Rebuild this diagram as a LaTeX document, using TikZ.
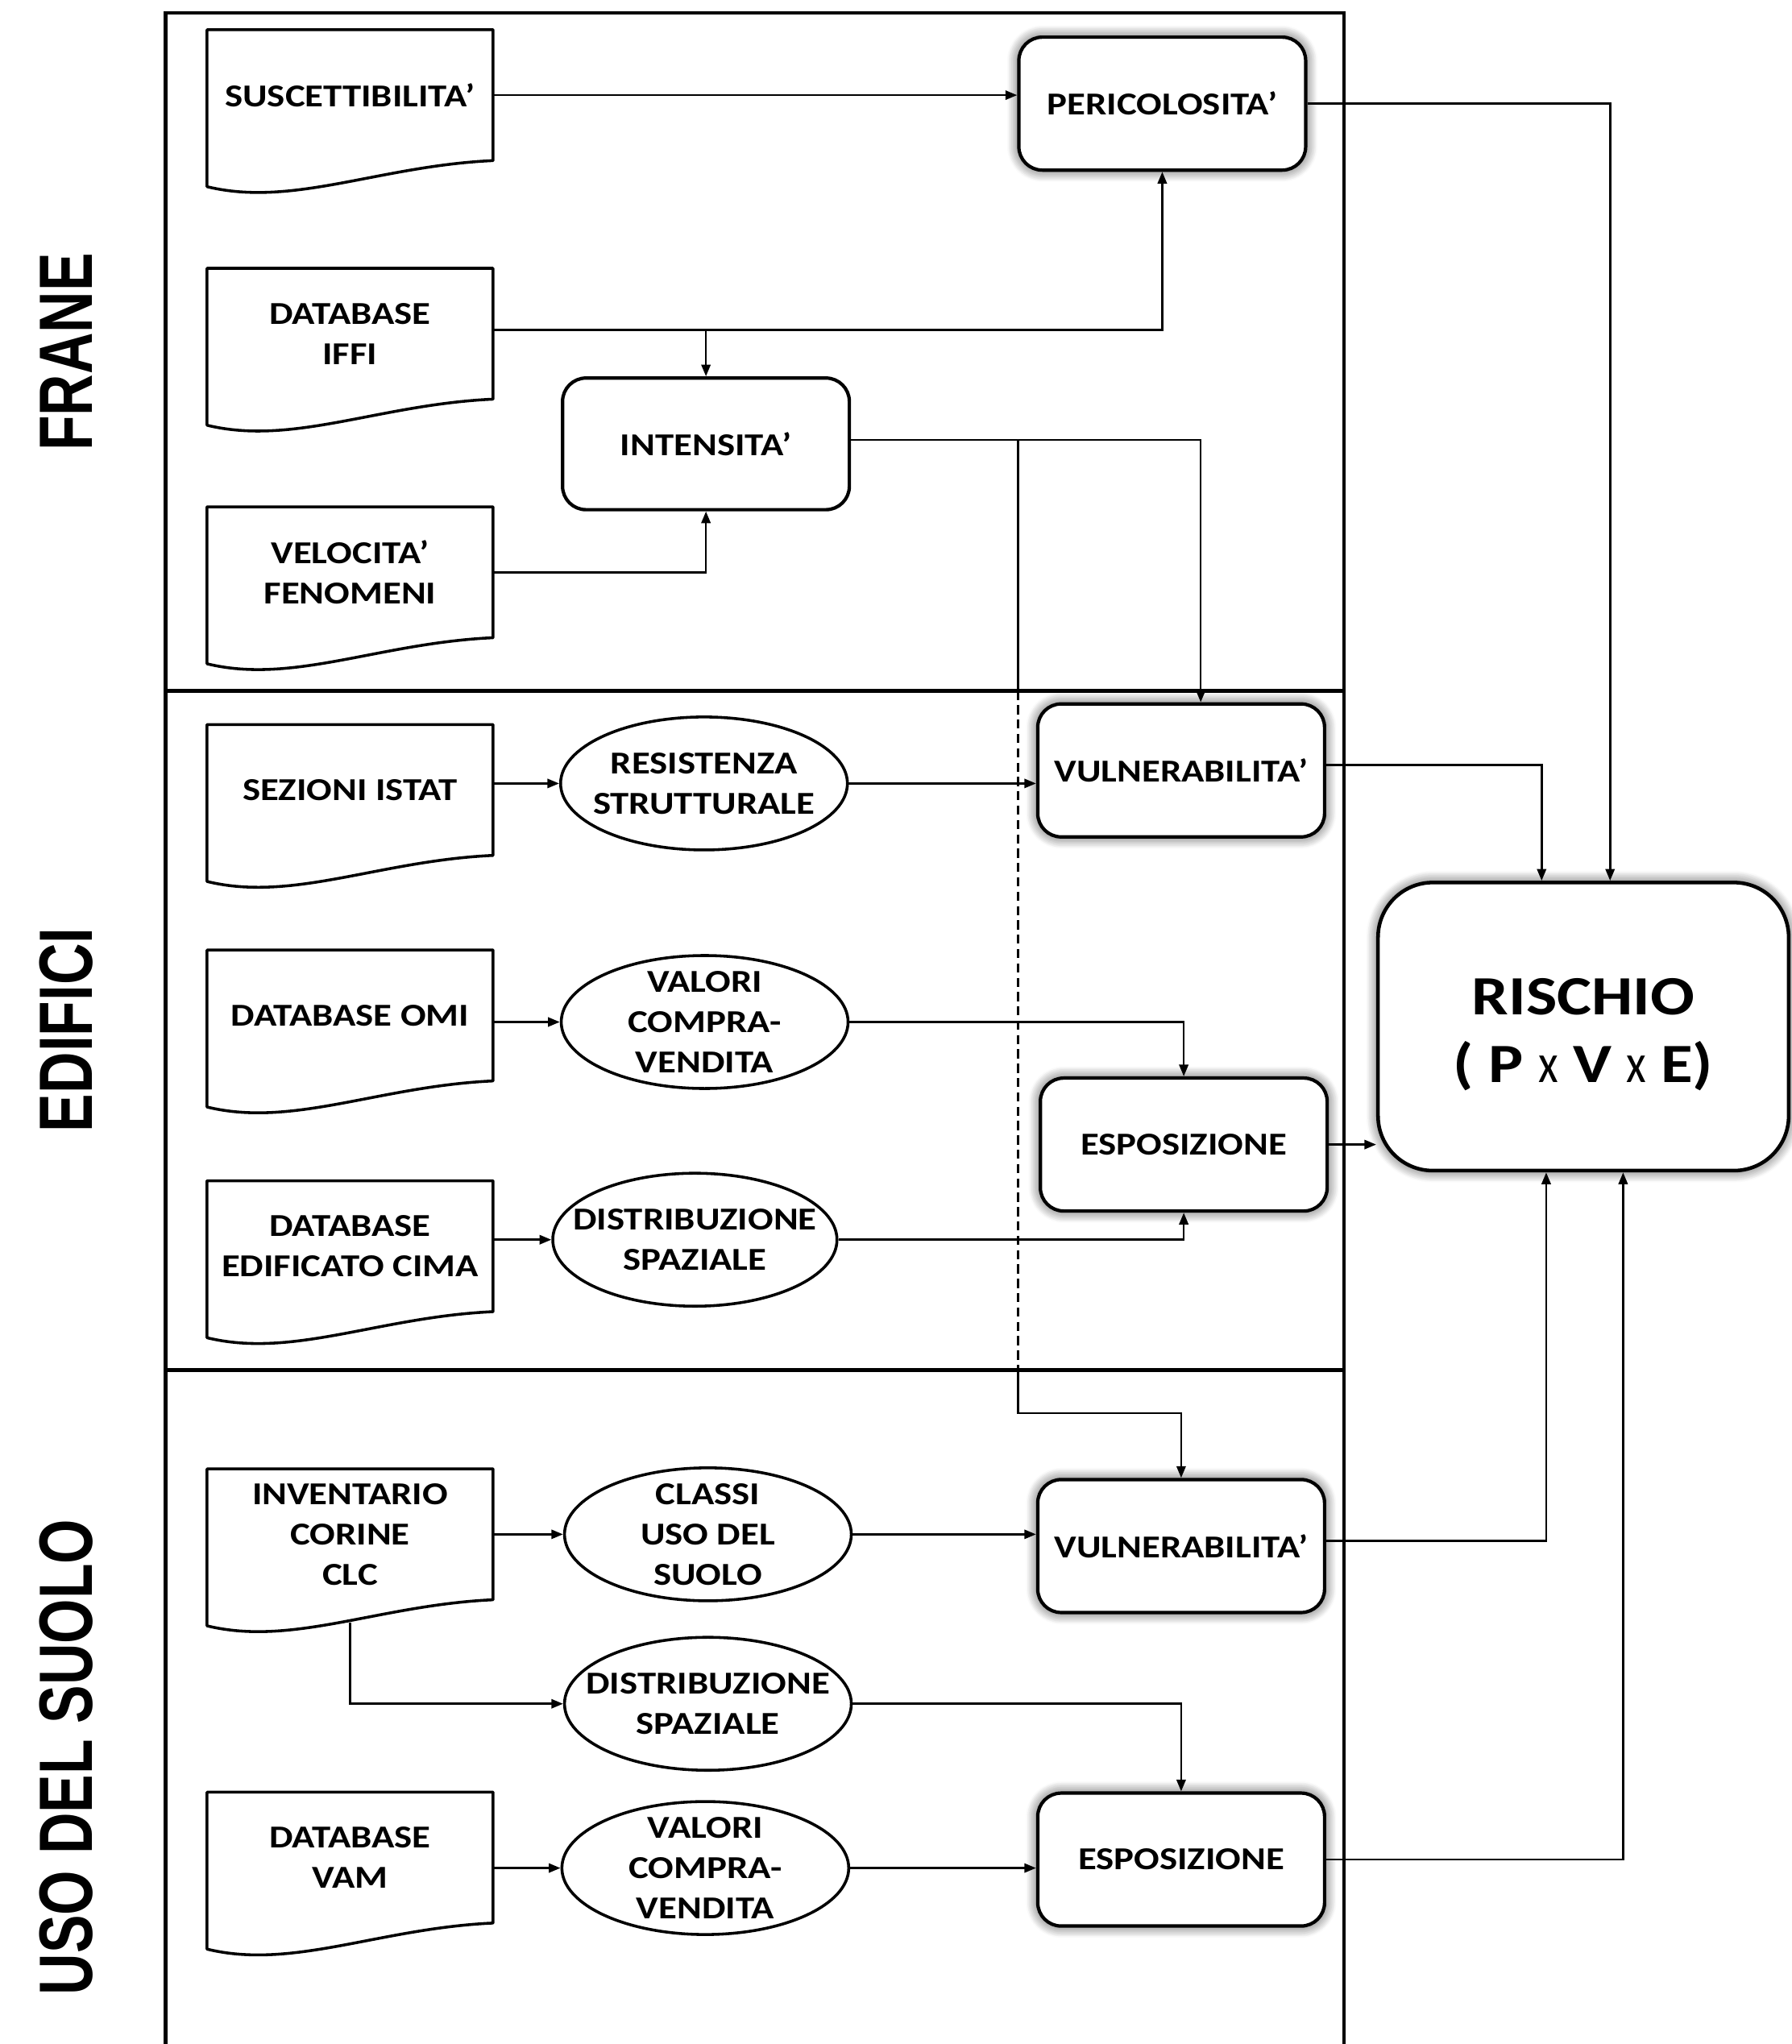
\documentclass[tikz,border=0pt]{standalone}
\usepackage{fontspec}
\usepackage{graphicx}
\setmainfont{Carlito}[FakeStretch=1.18]
\newfontfamily\lanefont{Liberation Sans}
\usetikzlibrary{arrows.meta,shapes.geometric,shadows.blur}

% outline of a "document" symbol around a named node: straight top and sides, wavy bottom
\newcommand\docshape[1]{%
  \draw[docline] (#1.south east)
    .. controls +(-87.6,4) and +(65.7,16) .. ([yshift=-20pt]#1.south west)
    -- (#1.north west) -- (#1.north east) -- cycle;}
% thin multiplication sign used in the risk formula
\newcommand\timesx{{\mdseries\scalebox{0.7}[1]{x}}}

\begin{document}
\begin{tikzpicture}[x=1pt,y=-1pt,
  every node/.style={font=\bfseries\fontsize{24.5}{31}\selectfont, align=center},
  conn/.style={line width=1.6pt},
  arr/.style={conn, -{Triangle[length=9pt,width=7pt]}},
  frame/.style={line width=2.6pt},
  docbox/.style={minimum width=219pt, minimum height=100pt, inner sep=0pt},
  docline/.style={line width=2.2pt, line join=round},
  % ellipse of fixed size; its text is set as a centred label so it does not grow
  ebox/.style={ellipse, draw, line width=2.2pt, fill=white, minimum width=220pt, minimum height=102pt, inner sep=0pt,
    label={[inner sep=0pt]center:{#1}}},
  rbox/.style={draw, line width=2.6pt, rounded corners=18pt, fill=white, minimum width=220pt, minimum height=102pt, inner sep=0pt},
  glow/.style={blur shadow={shadow xshift=0pt, shadow yshift=0pt, shadow blur radius=9pt, shadow blur steps=9, shadow opacity=75}},
  lane/.style={rotate=90, font=\lanefont\bfseries\fontsize{58}{58}\selectfont}
]
\useasboundingbox (0,0) rectangle (1374,1568);

% swimlane frame
\coordinate (lane1) at (127,10);
\coordinate (lane2) at (127,530);
\coordinate (lane3) at (127,1051);
\coordinate (dx) at (781,0);
\draw[frame] (127,1568) -- (lane1) -- (1031,10) -- (1031,1568);
\draw[frame] (lane2) -- (1031,530);
\draw[frame] (lane3) -- (1031,1051);

% lane titles
\node[lane] (tfr) at (51,270) {\scalebox{0.76}[1]{FRANE}};
\node[lane] (ted) at (51,790) {\scalebox{0.76}[1]{EDIFICI}};
\node[lane] (tus) at (51,1348) {\scalebox{0.76}[1]{USO DEL SUOLO}};

% data sources
\node[docbox] (suc)  at (268.5,73)   {SUSCETTIBILITA'};
\node[docbox] (iffi) at (268.5,256)  {DATABASE\\IFFI};
\node[docbox] (vel)  at (268.5,439)  {VELOCITA'\\FENOMENI};
\node[docbox] (ist)  at (268.5,606)  {SEZIONI ISTAT};
\node[docbox] (omi)  at (268.5,779)  {DATABASE OMI};
\node[docbox] (cima) at (268.5,956)  {DATABASE\\EDIFICATO CIMA};
\node[docbox] (clc)  at (268.5,1177) {INVENTARIO\\CORINE\\CLC};
\node[docbox] (vam)  at (268.5,1425) {DATABASE\\VAM};
\foreach \d in {suc,iffi,vel,ist,omi,cima,clc,vam} {\docshape{\d}}

% intermediate products
\node[ebox={RESISTENZA\\STRUTTURALE}] (res)  at (540,601)   {};
\node[ebox={VALORI\\COMPRA-\\VENDITA}] (val1) at (540.5,784) {};
\node[ebox={DISTRIBUZIONE\\SPAZIALE}, minimum width=218pt] (dis1) at (533,951) {};
\node[ebox={CLASSI\\USO DEL\\SUOLO}] (cls)  at (543,1177)   {};
\node[ebox={DISTRIBUZIONE\\SPAZIALE}] (dis2) at (543,1307)  {};
\node[ebox={VALORI\\COMPRA-\\VENDITA}] (val2) at (541,1433) {};

% risk components
\node[rbox, glow] (peri) at (891.5,79.5) {PERICOLOSITA'};
\node[rbox, minimum height=101pt] (inte) at (541.5,340.5) {INTENSITA'};
\node[rbox, glow] (vul1) at (906,591)    {VULNERABILITA'};
\node[rbox, glow] (esp1) at (908,878)    {ESPOSIZIONE};
\node[rbox, glow] (vul2) at (906,1186)   {VULNERABILITA'};
\node[rbox, glow] (esp2) at (906,1426.5) {ESPOSIZIONE};
\node[rbox, glow, rounded corners=42pt, line width=2.8pt, minimum width=315pt, minimum height=221pt,
  label={[inner sep=0pt, yshift=-6pt, font=\bfseries\fontsize{42.5}{52}\selectfont]center:{RISCHIO\\( P \timesx{} V \timesx{} E)}}]
  (risk) at (1214.5,787.5) {};

% frane
\draw[arr] (suc.east) -- (suc.east -| peri.west);
\draw[arr] ([yshift=3pt]iffi.east) -| (peri.south);
\draw[arr] ([yshift=3pt]iffi.east -| inte.north) -- (inte.north);
\draw[arr] (vel.east) -| (inte.south);
\draw[arr] ([yshift=3pt]inte.east) -| ([xshift=15pt]vul1.north);
\coordinate (tap) at ([yshift=3pt]inte.east -| dx);
\draw[conn] (tap) -- (tap |- lane2);
\draw[conn, dash pattern=on 7pt off 4pt] (tap |- lane2) -- (tap |- lane3);
\draw[arr] (tap |- lane3) -- ++(0,33) -| (vul2.north);

% edifici
\draw[arr] (res.west -| ist.east) -- (res.west);
\draw[arr] (res.east) -- (res.east -| vul1.west);
\draw[arr] (val1.west -| omi.east) -- (val1.west);
\draw[arr] (val1.east) -| (esp1.north);
\draw[arr] (dis1.west -| cima.east) -- (dis1.west);
\draw[arr] (dis1.east) -| (esp1.south);

% uso del suolo
\coordinate (clcb) at ([yshift=-17.5pt]clc.south);
\draw[arr] (clc.east) -- (cls.west);
\draw[arr] (clcb) |- (dis2.west);
\draw[arr] (val2.west -| vam.east) -- (val2.west);
\draw[arr] (cls.east) -- (cls.east -| vul2.west);
\draw[arr] (dis2.east) -| (esp2.north);
\draw[arr] (val2.east) -- (val2.east -| esp2.west);

% towards the risk
\draw[arr] (peri.east) -| ([xshift=20.5pt]risk.north);
\draw[arr] ([yshift=4pt]vul1.east) -| ([xshift=-32pt]risk.north);
\draw[arr] (esp1.east) -- (esp1.east -| risk.west);
\draw[arr] ([yshift=4pt]vul2.east) -| ([xshift=-28.5pt]risk.south);
\draw[arr] (esp2.east) -| ([xshift=30.5pt]risk.south);
\end{tikzpicture}
\end{document}
